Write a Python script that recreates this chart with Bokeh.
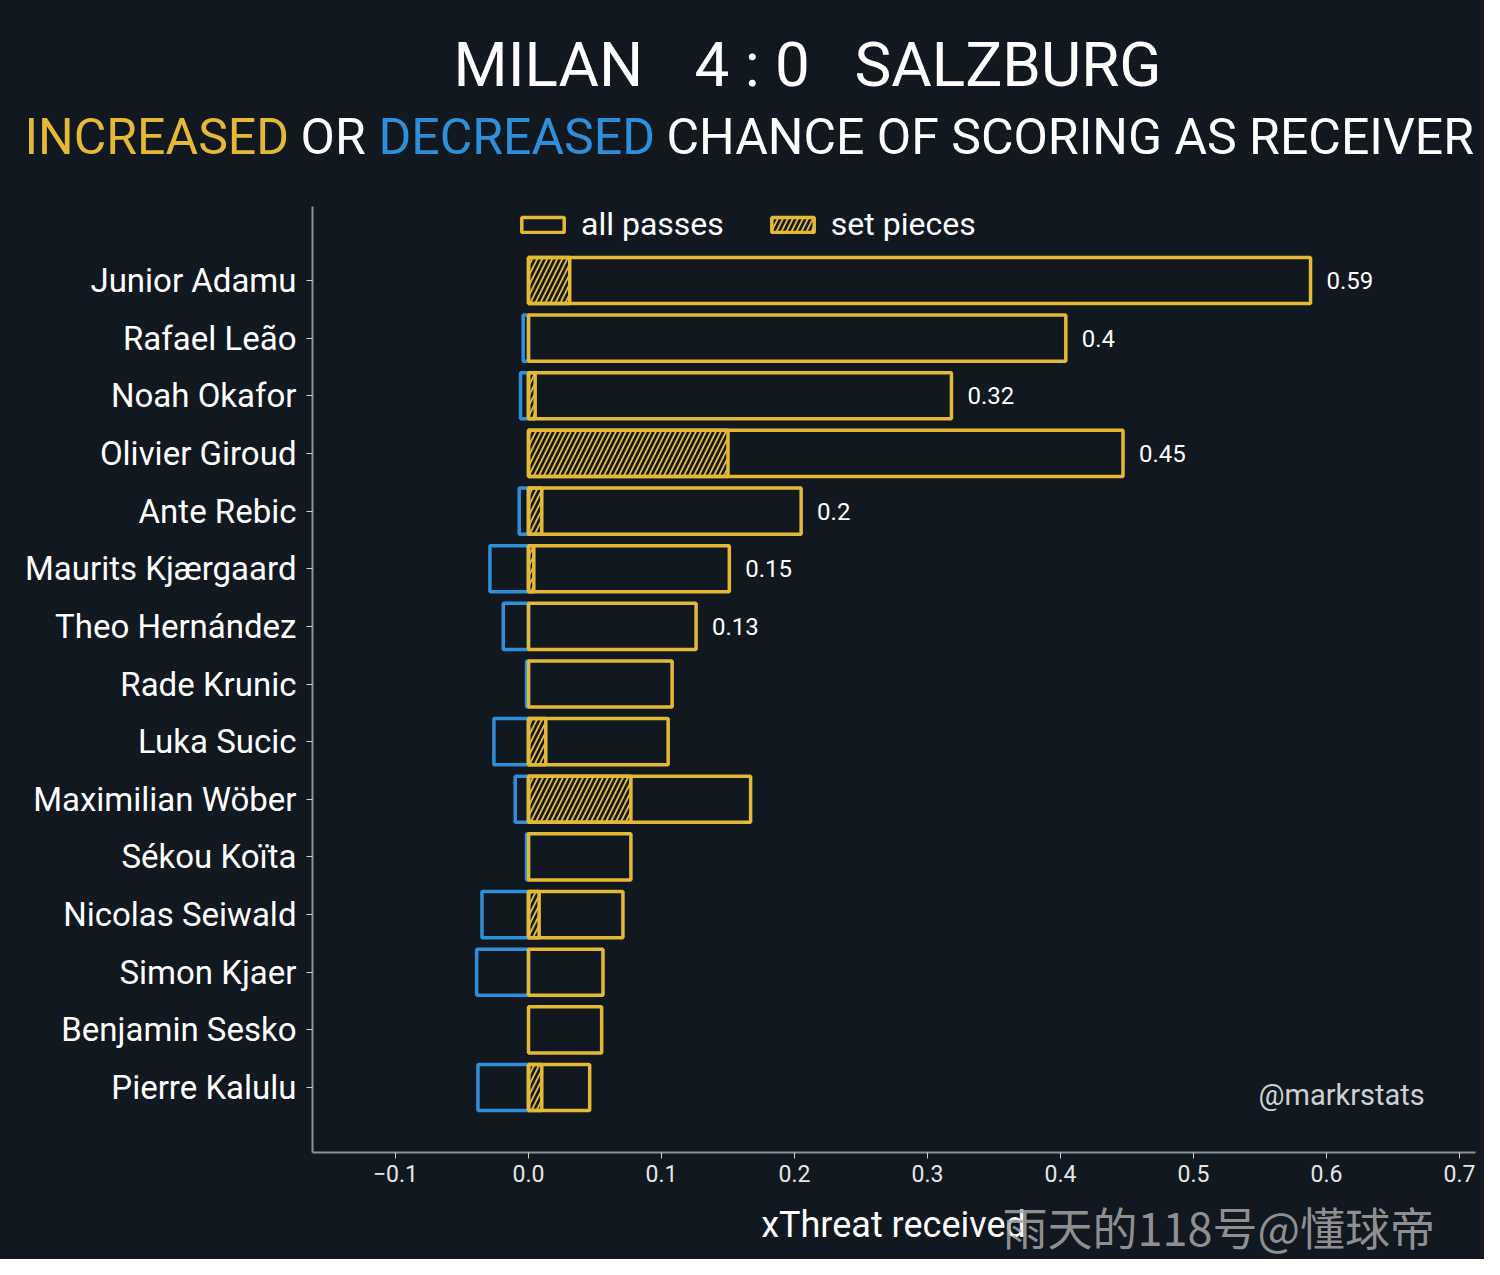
from bokeh.plotting import figure
from bokeh.layouts import column
from bokeh.models import (Range1d, FixedTicker, CustomJSTickFormatter, Label,
                          Legend, LegendItem, ColumnDataSource)
from bokeh.core.properties import value
from bokeh.embed import file_html
from bokeh.resources import INLINE

# ---------------- data ----------------
players = ["Junior Adamu", "Rafael Leão", "Noah Okafor", "Olivier Giroud",
           "Ante Rebic", "Maurits Kjærgaard", "Theo Hernández", "Rade Krunic",
           "Luka Sucic", "Maximilian Wöber", "Sékou Koïta", "Nicolas Seiwald",
           "Simon Kjaer", "Benjamin Sesko", "Pierre Kalulu"]
all_passes = [0.588, 0.404, 0.318, 0.447, 0.205, 0.151, 0.126, 0.108,
              0.105, 0.167, 0.077, 0.071, 0.056, 0.055, 0.046]
set_pieces = [0.031, 0.0, 0.005, 0.150, 0.010, 0.004, 0.0, 0.0,
              0.013, 0.077, 0.0, 0.008, 0.0, 0.0, 0.010]
decreased = [0.0, -0.004, -0.006, 0.0, -0.007, -0.029, -0.019, -0.0015,
             -0.026, -0.010, -0.0015, -0.035, -0.039, 0.0, -0.038]
value_labels = ["0.59", "0.4", "0.32", "0.45", "0.2", "0.15", "0.13",
                "", "", "", "", "", "", "", ""]
x_ticks = [-0.1, 0.0, 0.1, 0.2, 0.3, 0.4, 0.5, 0.6, 0.7]

title_parts = ["MILAN", "4 : 0", "SALZBURG"]
subtitle_parts = ["INCREASED", "OR", "DECREASED", "CHANCE OF SCORING AS RECEIVER"]
x_label = "xThreat received"
credit = "@markrstats"
watermark = "雨天的118号@懂球帝"

# ---------------- style ----------------
BG = "#111820"
YEL = "#e4b935"
BLU = "#2e8fda"
AX = "#8a949c"
FONT = "Roboto"
W = 1484
H_TOP = 206      # header height (frame top of main chart)
H_MAIN_END = 1192
H_ALL = 1259

n = len(players)
ypos = [n - 1 - i for i in range(n)]


def blank_fig(h, y0, y1):
    f = figure(width=W, height=h, x_range=Range1d(0, W), y_range=Range1d(y1, y0),
               output_backend="svg", toolbar_location=None,
               x_axis_type=None, y_axis_type=None, frame_align=False,
               min_border=0, min_border_left=0, min_border_right=0,
               min_border_top=0, min_border_bottom=0,
               background_fill_color=BG, border_fill_color=BG, outline_line_color=None)
    f.grid.visible = False
    return f


# ---------------- header ----------------
head = blank_fig(H_TOP, 0, H_TOP)
head_src = ColumnDataSource(dict(
    x=[453, 694, 854, 24, 300, 378, 666],
    y=[64, 64, 64, 136, 136, 136, 136],
    t=title_parts + subtitle_parts,
    c=["white", "white", "white", YEL, "white", BLU, "white"],
    s=["62px", "62px", "62px", "50px", "50px", "50px", "50px"]))
head.text(x="x", y="y", text="t", text_color="c", text_font_size="s", source=head_src,
          text_font=value(FONT), text_align="left", text_baseline="middle")

# ---------------- main chart ----------------
X0, X1 = -0.16241, 0.71203
# row pitch 57.64px, row 14 at y=280, frame 206..1152
Y1 = 14 + (280 - H_TOP) / 57.64
Y0 = -(1152 - 1087) / 57.64

p = figure(width=W, height=H_MAIN_END - H_TOP, x_range=Range1d(X0, X1), y_range=Range1d(Y0, Y1),
           output_backend="svg", toolbar_location=None, frame_align=False,
           min_border_left=312, min_border_right=9, min_border_top=0,
           min_border_bottom=H_MAIN_END - 1152,
           background_fill_color=BG, border_fill_color=BG, outline_line_color=None)
p.grid.visible = False

# negative (blue) bars
neg_src = ColumnDataSource(dict(
    y=[ypos[i] for i in range(n) if decreased[i] < 0],
    left=[decreased[i] for i in range(n) if decreased[i] < 0]))
p.hbar(y="y", left="left", right=0, height=0.8, source=neg_src,
       fill_alpha=0, line_color=BLU, line_width=3.5)

# all passes
all_src = ColumnDataSource(dict(y=ypos, right=all_passes))
r_all = p.hbar(y="y", left=0, right="right", height=0.8, source=all_src,
               fill_alpha=0, line_color=YEL, line_width=3.5)

# set pieces (hatched)
sp_src = ColumnDataSource(dict(
    y=[ypos[i] for i in range(n) if set_pieces[i] > 0],
    right=[set_pieces[i] for i in range(n) if set_pieces[i] > 0]))
r_sp = p.hbar(y="y", left=0, right="right", height=0.8, source=sp_src,
              fill_alpha=0, line_color=YEL, line_width=3.5,
              hatch_pattern="/", hatch_color=YEL, hatch_scale=10, hatch_weight=1.8)

# value labels
lab_idx = [i for i in range(n) if value_labels[i]]
lab_src = ColumnDataSource(dict(
    x=[all_passes[i] + 0.012 for i in lab_idx],
    y=[ypos[i] for i in lab_idx],
    t=[value_labels[i] for i in lab_idx]))
p.text(x="x", y="y", text="t", source=lab_src, text_font=value(FONT),
       text_font_size="24px", text_color="white", text_baseline="middle", text_align="left")

# credit
p.add_layout(Label(x=(1258 - 528) / 1330.0, y=(1087 - 1095) / 57.64,
                   x_units="data", y_units="data",
                   text=credit, text_font=FONT, text_font_size="29px",
                   text_color="#cdd1d4", text_baseline="middle"))

# axes
xa = p.xaxis[0]
xa.ticker = FixedTicker(ticks=x_ticks, minor_ticks=[])
xa.formatter = CustomJSTickFormatter(code="return (tick < -1e-9 ? '\u2212' : '') + Math.abs(tick).toFixed(1);")
xa.major_label_text_font = FONT
xa.major_label_text_font_size = "23px"
xa.major_label_text_color = "#e6e6e6"
xa.major_label_standoff = 6
xa.axis_line_color = AX
xa.axis_line_width = 2
xa.major_tick_line_color = "#d0d0d0"
xa.major_tick_in = 0
xa.major_tick_out = 6
xa.minor_tick_line_color = None

ya = p.yaxis[0]
ya.ticker = FixedTicker(ticks=ypos, minor_ticks=[])
ya.formatter = CustomJSTickFormatter(args=dict(names=players),
                                     code="return names[names.length - 1 - Math.round(tick)];")
ya.major_label_text_font = FONT
ya.major_label_text_font_size = "33px"
ya.major_label_text_color = "white"
ya.major_label_standoff = 10
ya.axis_line_color = AX
ya.axis_line_width = 2
ya.major_tick_line_color = "#d0d0d0"
ya.major_tick_in = 0
ya.major_tick_out = 6
ya.minor_tick_line_color = None

# legend
frame_h = 1152 - H_TOP
legend = Legend(items=[LegendItem(label="all passes", renderers=[r_all]),
                       LegendItem(label="set pieces", renderers=[r_sp])],
                orientation="horizontal", location=(204, frame_h - 37),
                background_fill_alpha=0, border_line_color=None,
                label_text_color="white", label_text_font=FONT, label_text_font_size="32px",
                glyph_width=53, glyph_height=19, label_standoff=12, spacing=42,
                padding=0, margin=0)
p.add_layout(legend)

# ---------------- footer ----------------
foot = blank_fig(H_ALL - H_MAIN_END, H_MAIN_END, H_ALL)
foot.text(x=[893], y=[1224], text=[x_label], text_font=value(FONT), text_font_size="36px",
          text_color="white", text_align="center", text_baseline="middle")
foot.text(x=[1002], y=[1226], text=[watermark], text_font=value("Noto Sans CJK SC"),
          text_font_size="45px", text_color="#a6a6a6", text_alpha=0.85,
          text_align="left", text_baseline="middle")

layout = column(head, p, foot, spacing=0)
layout.styles = {"background-color": BG}
open("out.html", "w").write(file_html(layout, INLINE))
